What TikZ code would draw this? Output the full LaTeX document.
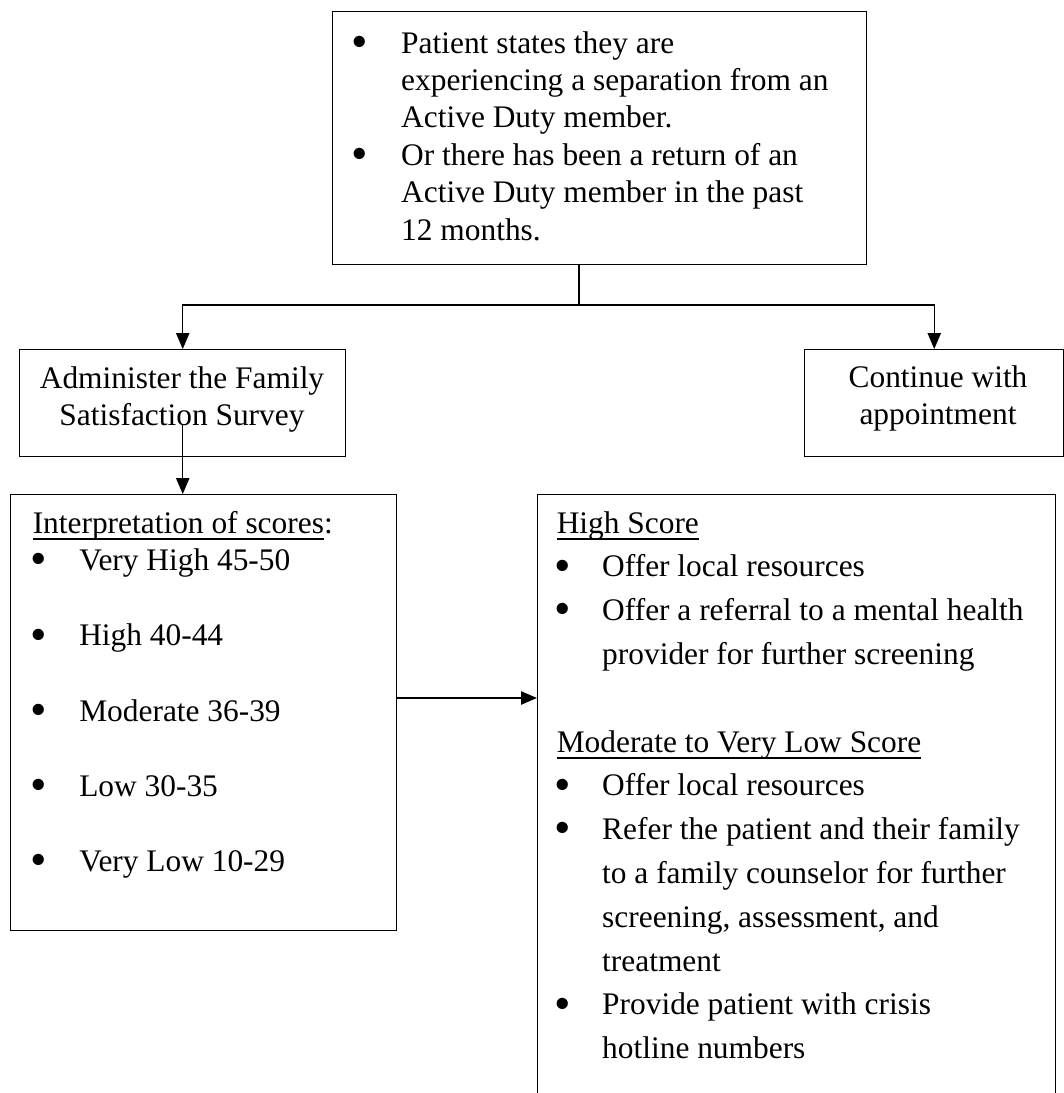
\documentclass[tikz,border=0pt]{standalone}
\usepackage{fontspec}
\usepackage{graphicx}
\setmainfont{Liberation Serif}
\usetikzlibrary{arrows.meta,calc}
\newcommand\uln[1]{\leavevmode\setbox0\hbox{#1}\rlap{\rule[-5.0pt]{\wd0}{1.1pt}}\box0}
\newcommand\bu{\hspace*{-2pt}\raisebox{-3.2pt}{\scalebox{1.5}{\textbullet}}}
\begin{document}
\begin{tikzpicture}[x=0.75pt,y=-0.75pt,
  box/.style={draw, line width=1.1pt, rectangle, inner sep=0pt, anchor=north west},
  conn/.style={line width=1pt},
  arr/.style={conn, -{Triangle[length=12pt,width=10pt]}},
  txt/.style={inner sep=0pt, anchor=base west, font=\fontsize{23.55}{28.05}\selectfont},
  ctxt/.style={inner sep=0pt, anchor=base, font=\fontsize{23.55}{27.75}\selectfont}]
\useasboundingbox (0,0) rectangle (1064,1093);
\fill[white] (0,0) rectangle (1064,1093);
\clip (0,0) rectangle (1064,1093);

% boxes
\node[box, minimum width=400.5pt, minimum height=189.75pt] (top) at (332,11) {};
\node[box, minimum width=244.5pt, minimum height=80.25pt] (admin) at (19,349) {};
\node[box, minimum width=194.25pt, minimum height=80.25pt] (cont) at (804,349) {};
\node[box, minimum width=289.5pt, minimum height=327pt] (interp) at (10,494) {};
\node[box, minimum width=388.5pt, minimum height=469.5pt] (resp) at (537,494) {};

% texts
\node[txt] (toptxt) at (353.5,53) {\begin{tabular}[t]{@{}p{35.6pt}@{}l@{}}
\bu & Patient states they are\\
    & experiencing a separation from an\\
    & Active Duty member.\\
\bu & Or there has been a return of an\\
    & Active Duty member in the past\\
    & 12 months.
\end{tabular}};

\node[ctxt] (admintxt) at (182,388) {\begin{tabular}[t]{@{}c@{}}Administer the Family\\Satisfaction Survey\end{tabular}};
\node[ctxt] (conttxt) at (938,387) {\begin{tabular}[t]{@{}c@{}}Continue with\\appointment\end{tabular}};

\node[txt, font=\fontsize{23.55}{28.2}\selectfont] (interptxt) at (32.5,533) {\begin{tabular}[t]{@{}p{34.9pt}@{}l@{}}
\multicolumn{2}{@{}l@{}}{\uln{Interpretation of scores}:}\\
\bu & Very High 45-50\\
    & \\
\bu & High 40-44\\
    & \\
\bu & Moderate 36-39\\
    & \\
\bu & Low 30-35\\
    & \\
\bu & Very Low 10-29
\end{tabular}};

\node[txt, font=\fontsize{23.55}{32.85}\selectfont] (resptxt) at (556.5,533) {\begin{tabular}[t]{@{}p{34.1pt}@{}l@{}}
\multicolumn{2}{@{}l@{}}{\uln{High Score}}\\
\bu & Offer local resources\\
\bu & Offer a referral to a mental health\\
    & provider for further screening\\
    & \\
\multicolumn{2}{@{}l@{}}{\uln{Moderate to Very Low Score}}\\
\bu & Offer local resources\\
\bu & Refer the patient and their family\\
    & to a family counselor for further\\
    & screening, assessment, and\\
    & treatment\\
\bu & Provide patient with crisis\\
    & hotline numbers
\end{tabular}};

% connectors
\coordinate (split) at (579,305);
\coordinate (mid) at (0,698);
\draw[conn] (split |- top.south) -- (split);
\draw[arr] (split) -| (admin.north);
\draw[arr] (split) -| (cont.north);
\draw[arr] ($(admin.south)+(0,-33)$) -- (admin.south |- interp.north);
\draw[arr] (interp.east |- mid) -- (resp.west |- mid);
\end{tikzpicture}
\end{document}
